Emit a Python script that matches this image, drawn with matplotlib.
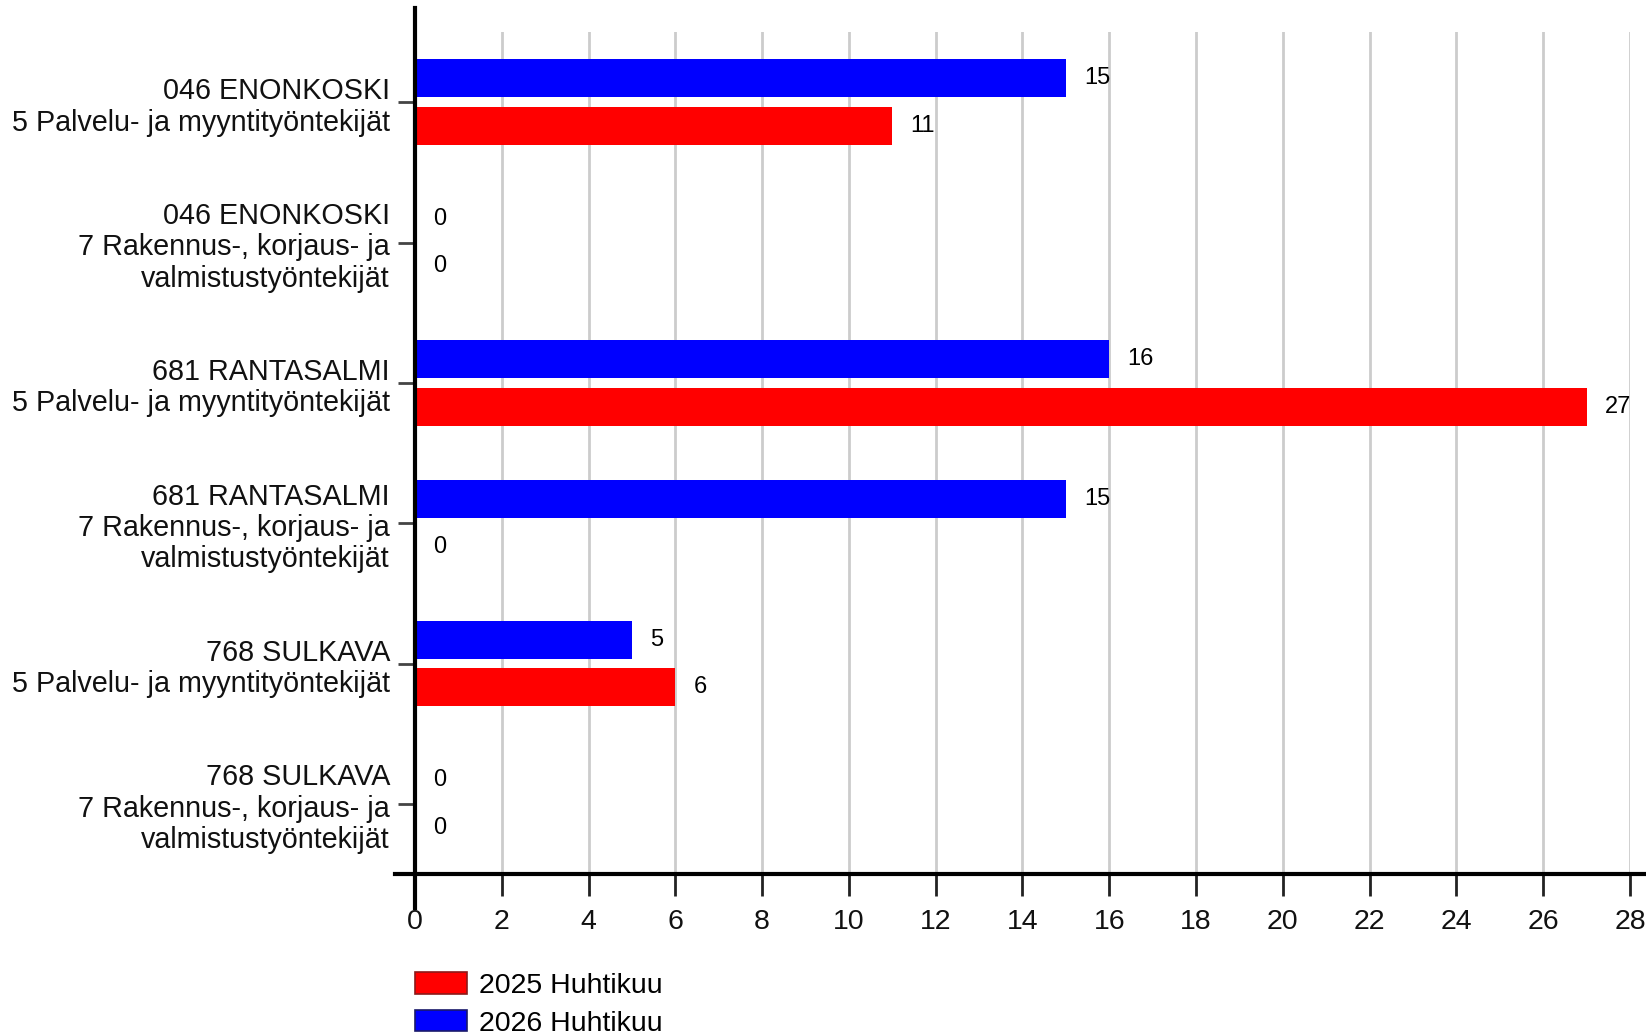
import matplotlib.pyplot as plt
import numpy as np
from matplotlib.patches import Patch

plt.rcParams['font.family'] = ['Liberation Sans', 'DejaVu Sans']

categories = [
    "046 ENONKOSKI\n5 Palvelu- ja myyntityöntekijät",
    "046 ENONKOSKI\n7 Rakennus-, korjaus- ja\nvalmistustyöntekijät",
    "681 RANTASALMI\n5 Palvelu- ja myyntityöntekijät",
    "681 RANTASALMI\n7 Rakennus-, korjaus- ja\nvalmistustyöntekijät",
    "768 SULKAVA\n5 Palvelu- ja myyntityöntekijät",
    "768 SULKAVA\n7 Rakennus-, korjaus- ja\nvalmistustyöntekijät",
]
vals_2025 = [11, 0, 27, 0, 6, 0]
vals_2026 = [15, 0, 16, 15, 5, 0]
series_names = ["2025 Huhtikuu", "2026 Huhtikuu"]
xticks = list(range(0, 29, 2))

red = "#ff0000"
blue = "#0000ff"

fig = plt.figure(figsize=(16.46, 10.34), dpi=100)
ax = fig.add_axes([0.2521, 0.1547, 0.7382, 0.8143])

y = np.arange(len(categories))
h = 0.27
off = 0.17
b26 = ax.barh(y - off, vals_2026, height=h, color=blue, zorder=3)
b25 = ax.barh(y + off, vals_2025, height=h, color=red, zorder=3)

for bars, vals in ((b26, vals_2026), (b25, vals_2025)):
    for bar, v in zip(bars, vals):
        ax.annotate(str(v), (v, bar.get_y() + bar.get_height() / 2),
                    xytext=(13, 0), textcoords="offset points",
                    ha="left", va="center", fontsize=17, color="#000000")

ax.set_xlim(0, 28)
ax.set_ylim(len(categories) - 0.5, -0.5)
ax.set_xticks(xticks)
ax.set_yticks(y)
ax.set_yticklabels(categories, fontsize=20.7, color="#111111", linespacing=1.15)
ax.tick_params(axis="x", labelsize=20.5, length=16, width=2, color="#222222",
               labelcolor="#111111", pad=9)
ax.tick_params(axis="y", length=12, width=2, color="#444444", pad=6)

ax.grid(axis="x", color="#cccccc", linewidth=2, zorder=0)
for s in ax.spines.values():
    s.set_visible(False)

# axis lines, drawn a little longer than the plot area
ax.plot([0, 0], [-0.04, 1.0285], transform=ax.transAxes, color="black",
        linewidth=3, clip_on=False, zorder=5)
ax.plot([-0.0165, 1.02], [0, 0], transform=ax.transAxes, color="black",
        linewidth=3, clip_on=False, zorder=5)

handles = [Patch(facecolor=red, edgecolor="#8b1a1a", linewidth=1.2),
           Patch(facecolor=blue, edgecolor="#1a1a6b", linewidth=1.2)]
fig.legend(handles, series_names, loc="upper left",
           bbox_to_anchor=(0.2523, 0.0595), frameon=False, fontsize=20.5,
           handlelength=1.8, handleheight=0.76, handletextpad=0.45,
           labelspacing=0.4, borderpad=0, borderaxespad=0)

fig.savefig("out.png", dpi=100)
